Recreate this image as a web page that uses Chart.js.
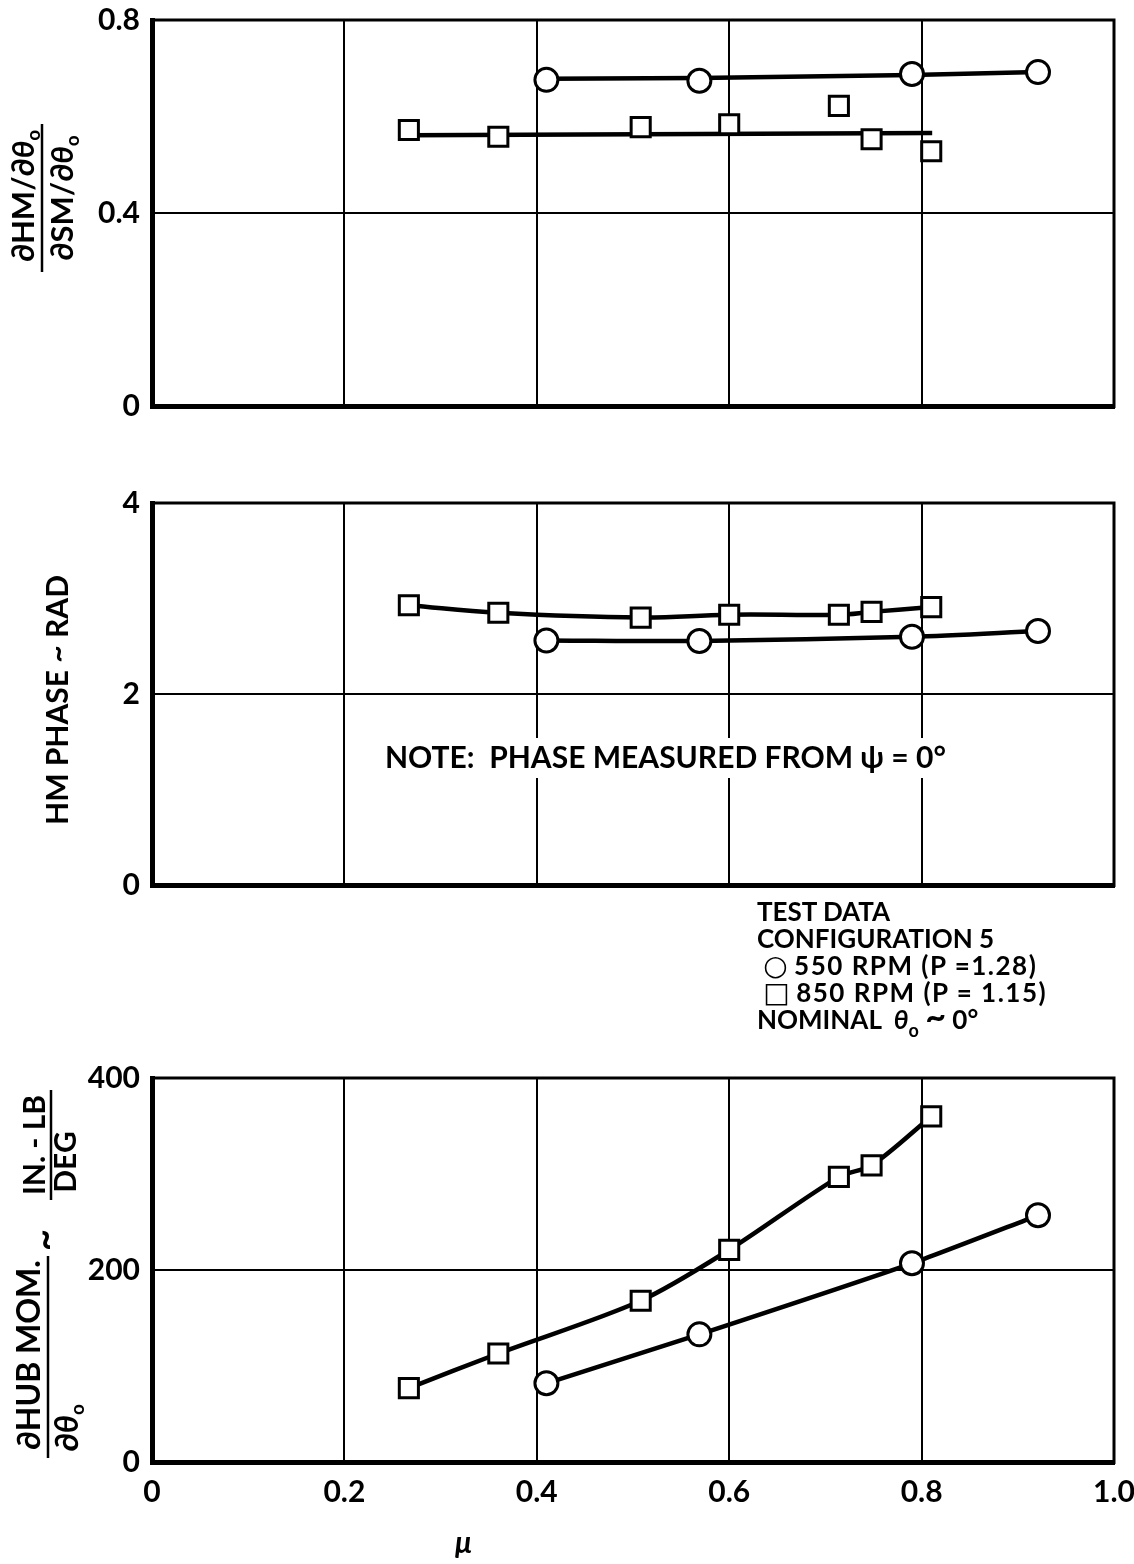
<!DOCTYPE html>
<html>
<head>
<meta charset="utf-8">
<script src="https://cdn.jsdelivr.net/npm/chart.js@4.4.0/dist/chart.umd.min.js"></script>
<style>
  body { margin: 0; background: #fff; }
  #page { position: relative; width: 1134px; height: 1564px; background: #fff; color: #000; overflow: hidden;
          font-family: Lato, "DejaVu Sans", sans-serif; font-weight: bold; }
  canvas { position: absolute; left: 0; }
  .txt { position: absolute; white-space: pre; font-size: 26px; line-height: 27px; }
  .txt sub { font-size: 18px; line-height: 0; vertical-align: -8px; }
  .sym { font-family: "DejaVu Sans", sans-serif; font-weight: normal; font-size: 28px; line-height: 0; }
  .wide { letter-spacing: 1.5px; }
  .tl { font-size: 36px; line-height: 0; }
</style>
</head>
<body>
<div id="page">
  <canvas id="ratioChart" width="1134" height="450" style="top:0"></canvas>
  <canvas id="phaseChart" width="1134" height="430" style="top:470px"></canvas>
  <canvas id="hubChart" width="1134" height="514" style="top:1050px"></canvas>
  <div class="txt" style="left:757px; top:898px">TEST DATA
CONFIGURATION 5
 <span class="sym">○</span> <span class="wide">550 RPM (P =1.28)</span>
 <span class="sym">□</span> <span class="wide">850 RPM (P = 1.15)</span>
NOMINAL  <i>θ</i><sub>o</sub> <span class="tl">~</span> 0°</div>
  <div class="txt" style="left:455px; top:1528px; font-size:30px"><i>μ</i></div>
</div>
<script>
// advance ratio of each test point
var muCircle = [0.41, 0.569, 0.79, 0.921];
var muSquare = [0.267, 0.36, 0.508, 0.6, 0.714, 0.748, 0.81];
var muTicks = [0, 0.2, 0.4, 0.6, 0.8, 1.0];

// (dHM/dθ) / (dSM/dθ)
var ratioCircle = [0.676, 0.674, 0.688, 0.692];
var ratioSquare = [0.572, 0.558, 0.578, 0.584, 0.622, 0.553, 0.528];
// faired lines through the ratio points
var ratioCircleFair = [0.678, 0.68, 0.686, 0.692];
var ratioSquareFairMu = [0.267, 0.811];
var ratioSquareFair = [0.561, 0.566];

// HM phase, rad
var phaseCircle = [2.56, 2.555, 2.60, 2.66];
var phaseSquare = [2.93, 2.85, 2.80, 2.83, 2.83, 2.86, 2.91];

// hub moment slope, in-lb/deg
var hubCircle = [82, 133, 207, 257];
var hubSquare = [77, 113, 168, 221, 297, 309, 360];

var FONT = 'Lato, "DejaVu Sans", sans-serif';
var tickFont = { family: FONT, size: 30, weight: 'bold' };

function pts(xs, ys) {
  return xs.map(function(x, i) { return { x: x, y: ys[i] }; });
}

function markers(data, style) {
  return {
    data: data, showLine: false, order: 0,
    pointStyle: style, pointRadius: style === 'rect' ? 13.5 : 11.5,
    pointBorderWidth: 3, pointBorderColor: '#000', pointBackgroundColor: '#fff'
  };
}

function curve(data, style, tension) {
  return {
    data: data, showLine: true, borderColor: '#000', borderWidth: 4.5,
    tension: tension, order: 1,
    pointStyle: style, pointRadius: style ? (style === 'rect' ? 13.5 : 11.5) : 0,
    pointBorderWidth: 3, pointBorderColor: '#000', pointBackgroundColor: '#fff'
  };
}

function muAxis(showLabels, height) {
  return {
    type: 'linear', min: 0, max: 1,
    afterBuildTicks: function(s) { s.ticks = muTicks.map(function(v) { return { value: v }; }); },
    grid: { color: '#000', lineWidth: 2, drawTicks: false },
    border: { color: '#000', width: 5 },
    ticks: {
      display: showLabels, color: '#000', font: tickFont, padding: 12,
      maxRotation: 0, autoSkip: false,
      callback: function(v) { return v === 0 ? '0' : v.toFixed(1); }
    },
    afterFit: function(s) { s.height = height; s.paddingLeft = 0; s.paddingRight = 0; }
  };
}

function valueAxis(max, step, fmt) {
  return {
    type: 'linear', min: 0, max: max,
    grid: { color: '#000', lineWidth: 2, drawTicks: false },
    border: { color: '#000', width: 5 },
    ticks: { stepSize: step, color: '#000', font: tickFont, padding: 12, callback: fmt },
    afterFit: function(s) { s.width = 152; s.paddingTop = 0; s.paddingBottom = 0; }
  };
}

function layout(top) {
  return { autoPadding: false, padding: { top: top, right: 20, left: 0, bottom: 0 } };
}

// thinner top and right edges of the plot box
var frame = {
  id: 'frame',
  beforeDatasetsDraw: function(chart) {
    var ctx = chart.ctx, a = chart.chartArea;
    ctx.save();
    ctx.strokeStyle = '#000';
    ctx.lineWidth = 3;
    ctx.beginPath();
    ctx.moveTo(a.left, a.top);
    ctx.lineTo(a.right, a.top);
    ctx.lineTo(a.right, a.bottom + 2);
    ctx.stroke();
    ctx.restore();
  }
};

// text running bottom-to-top, centred on (cx, cy); dv shifts a part to the right
function rotRun(ctx, cx, cy, parts) {
  ctx.save();
  ctx.translate(cx, cy);
  ctx.rotate(-Math.PI / 2);
  ctx.textBaseline = 'middle';
  ctx.textAlign = 'left';
  ctx.fillStyle = '#000';
  var w = 0;
  parts.forEach(function(p) { ctx.font = p.f; w += ctx.measureText(p.t).width; });
  var u = -w / 2;
  parts.forEach(function(p) {
    ctx.font = p.f;
    ctx.fillText(p.t, u, p.dv || 0);
    u += ctx.measureText(p.t).width;
  });
  ctx.restore();
}

function vbar(ctx, x, y1, y2, lw) {
  ctx.save();
  ctx.strokeStyle = '#000';
  ctx.lineWidth = lw;
  ctx.beginPath();
  ctx.moveTo(x, y1);
  ctx.lineTo(x, y2);
  ctx.stroke();
  ctx.restore();
}

function titlePlugin(draw) {
  return { id: 'ytitle', afterDraw: function(chart) { draw(chart.ctx); } };
}

var b31 = '700 31px ' + FONT, i31 = 'italic 700 31px ' + FONT, s19 = '700 19px ' + FONT;

new Chart(document.getElementById('ratioChart'), {
  type: 'scatter',
  data: { datasets: [
    markers(pts(muCircle, ratioCircle), 'circle'),
    markers(pts(muSquare, ratioSquare), 'rect'),
    curve(pts(muCircle, ratioCircleFair), null, 0),
    curve(pts(ratioSquareFairMu, ratioSquareFair), null, 0)
  ] },
  options: {
    responsive: false, animation: false,
    layout: layout(20),
    plugins: { legend: { display: false }, tooltip: { enabled: false } },
    scales: {
      x: muAxis(false, 44),
      y: valueAxis(0.8, 0.4, function(v) { return v === 0 ? '0' : v.toFixed(1); })
    }
  },
  plugins: [frame, titlePlugin(function(ctx) {
    rotRun(ctx, 24, 196, [{ t: '∂HM/∂', f: b31 }, { t: 'θ', f: i31 }, { t: 'o', f: s19, dv: 10 }]);
    vbar(ctx, 42, 124, 272, 2.5);
    rotRun(ctx, 63, 198, [{ t: '∂SM/∂', f: b31 }, { t: 'θ', f: i31 }, { t: 'o', f: s19, dv: 10 }]);
  })]
});

new Chart(document.getElementById('phaseChart'), {
  type: 'scatter',
  data: { datasets: [
    curve(pts(muCircle, phaseCircle), 'circle', 0.3),
    curve(pts(muSquare, phaseSquare), 'rect', 0.4)
  ] },
  options: {
    responsive: false, animation: false,
    layout: layout(33),
    plugins: { legend: { display: false }, tooltip: { enabled: false } },
    scales: {
      x: muAxis(false, 15),
      y: valueAxis(4, 2, function(v) { return String(v); })
    }
  },
  plugins: [frame, titlePlugin(function(ctx) {
    rotRun(ctx, 58, 230, [{ t: 'HM PHASE ~ RAD', f: '700 30px ' + FONT }]);
    // note box, blanking the grid behind the text
    ctx.save();
    ctx.font = '700 30px ' + FONT;
    var note = 'NOTE:  PHASE MEASURED FROM ψ = 0°';
    var w = ctx.measureText(note).width;
    ctx.fillStyle = '#fff';
    ctx.fillRect(380, 268, w + 10, 40);
    ctx.fillStyle = '#000';
    ctx.textBaseline = 'middle';
    ctx.fillText(note, 385, 288);
    ctx.restore();
  })]
});

new Chart(document.getElementById('hubChart'), {
  type: 'scatter',
  data: { datasets: [
    curve(pts(muCircle, hubCircle), 'circle', 0.2),
    curve(pts(muSquare, hubSquare), 'rect', 0.3)
  ] },
  options: {
    responsive: false, animation: false,
    layout: layout(28),
    plugins: { legend: { display: false }, tooltip: { enabled: false } },
    scales: {
      x: muAxis(true, 102),
      y: valueAxis(400, 200, function(v) { return String(v); })
    }
  },
  plugins: [frame, titlePlugin(function(ctx) {
    var b32 = '700 32px ' + FONT, b30 = '700 30px ' + FONT;
    rotRun(ctx, 30, 305, [{ t: '∂HUB MOM.', f: b32 }]);
    vbar(ctx, 48, 206, 408, 2.5);
    rotRun(ctx, 68, 378, [{ t: '∂', f: b32 }, { t: 'θ', f: 'italic 700 32px ' + FONT }, { t: 'o', f: s19, dv: 10 }]);
    rotRun(ctx, 46, 190, [{ t: '~', f: '700 38px ' + FONT }]);
    rotRun(ctx, 35, 95, [{ t: 'IN. - LB', f: b30 }]);
    vbar(ctx, 51, 40, 150, 2.5);
    rotRun(ctx, 66, 112, [{ t: 'DEG', f: b30 }]);
  })]
});
</script>
</body>
</html>
